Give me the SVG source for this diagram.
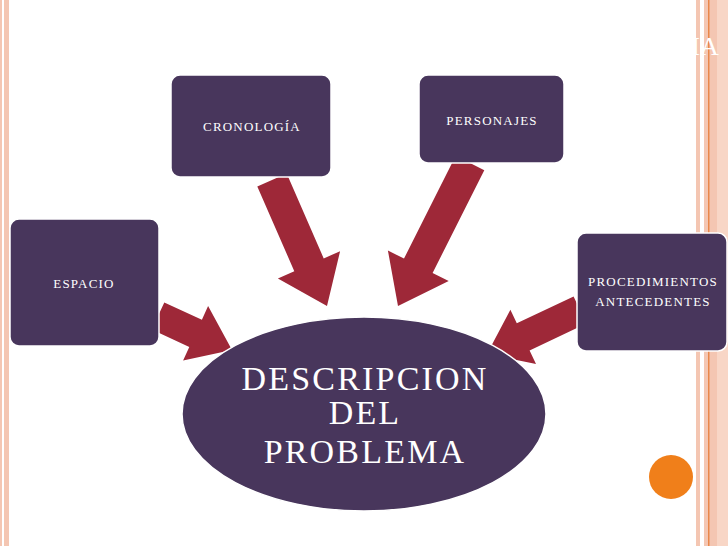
<svg xmlns="http://www.w3.org/2000/svg" width="728" height="546" viewBox="0 0 728 546">
<style>
.box{fill:#48365c;stroke:#ffffff;stroke-width:1.5}
.arr{fill:#9e2838}
.t{font-family:"Liberation Serif",serif;fill:#ffffff;font-size:13px;text-anchor:middle;letter-spacing:1.2px}
.big{font-family:"Liberation Serif",serif;fill:#ffffff;font-size:34px;text-anchor:middle;letter-spacing:2.2px}
</style>
<rect width="728" height="546" fill="#ffffff"/>
<rect x="0" y="0" width="2" height="546" fill="#f4c6b2"/>
<rect x="4" y="0" width="5" height="546" fill="#f4c6b2"/>
<rect x="696" y="0" width="4" height="546" fill="#f4c6b2"/>
<rect x="704" y="0" width="24" height="546" fill="#f4c6b2"/>
<rect x="708" y="0" width="1.5" height="546" fill="#e9874a"/>
<rect x="717" y="0" width="11" height="546" fill="#f8d6c6"/>
<text x="705" y="55" style="font-family:'Liberation Serif',serif;font-size:26px;fill:#ffffff" text-anchor="middle">IA</text>
<g id="connectors">
<polygon class="arr" points="257.3,186.4 294.3,271.2 277.9,278.4 327,306 340.1,251.2 323.7,258.4 286.7,173.6"/>
<polygon class="arr" points="484.3,170.2 432.6,273 448.7,281.1 398,306 387.9,250.5 404,258.6 455.7,155.8"/>
<polygon class="arr" points="151.7,329.6 189.3,346.9 183.1,360.6 232,350 208.1,306 201.9,319.7 164.3,302.4"/>
<polygon class="arr" points="586.4,323.6 529.6,350.5 536,364 487,354 510.4,309.8 516.8,323.3 573.6,296.4"/>
</g>
<g id="cronologia"><rect class="box" x="171" y="75" width="160" height="102" rx="9"/><text class="t" x="252" y="131">CRONOLOGÍA</text></g>
<g id="personajes"><rect class="box" x="419" y="75" width="145" height="88" rx="9"/><text class="t" x="492" y="125">PERSONAJES</text></g>
<g id="espacio"><rect class="box" x="10" y="219" width="149" height="127" rx="9"/><text class="t" x="84" y="288">ESPACIO</text></g>
<g id="procedimientos"><rect class="box" x="577" y="233" width="150" height="118" rx="9"/><text class="t" x="653" y="286">PROCEDIMIENTOS</text><text class="t" x="653" y="306">ANTECEDENTES</text></g>
<g id="descripcion"><ellipse cx="364" cy="414" rx="182" ry="97" fill="#48365c" stroke="#ffffff" stroke-width="1.5"/>
<text class="big" x="365" y="390">DESCRIPCION</text><text class="big" x="365" y="424">DEL</text><text class="big" x="365" y="463">PROBLEMA</text></g>
<circle cx="671" cy="477" r="22" fill="#f07f1a"/>
</svg>
